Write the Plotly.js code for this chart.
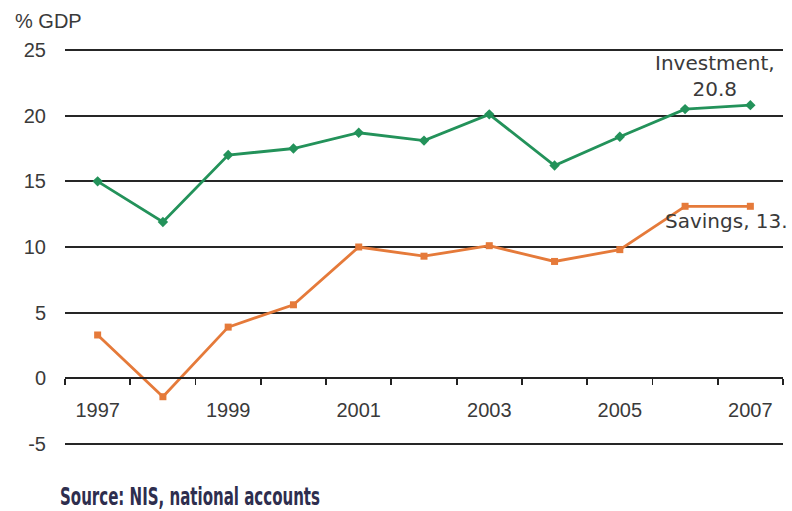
<!DOCTYPE html>
<html>
<head>
<meta charset="utf-8">
<script src="https://cdn.plot.ly/plotly-3.0.1.min.js"></script>
<style>
  html, body { margin: 0; padding: 0; background: #ffffff; }
  #chart { width: 792px; height: 511px; }
</style>
</head>
<body>
<div id="chart"></div>
<script>
// Gross investment and national savings, % of GDP
const years = [1997, 1998, 1999, 2000, 2001, 2002, 2003, 2004, 2005, 2006, 2007];
const investment = [15.0, 11.9, 17.0, 17.5, 18.7, 18.1, 20.1, 16.2, 18.4, 20.5, 20.8];
const savings = [3.3, -1.4, 3.9, 5.6, 10.0, 9.3, 10.1, 8.9, 9.8, 13.1, 13.1];

const yTicks = [-5, 0, 5, 10, 15, 20, 25];
const yearLabels = [1997, 1999, 2001, 2003, 2005, 2007];
const yearBounds = [1996.5, 1997.5, 1998.5, 1999.5, 2000.5, 2001.5, 2002.5,
                    2003.5, 2004.5, 2005.5, 2006.5, 2007.5];

const green = '#23925a';
const orange = '#e57a3a';
const textColor = '#3a3a3a';
const sourceText = 'Source: NIS, national accounts';

// a little room above 25 and below -5 so both outer gridlines are drawn
const yPad = 0.2285;
const yMin = -5 - yPad, yMax = 25 + yPad;
const zeroPos = (0 - yMin) / (yMax - yMin);

const traces = [
  {
    x: years, y: investment, type: 'scatter', mode: 'lines+markers',
    name: 'Investment',
    line: { color: green, width: 2.8 },
    marker: { symbol: 'diamond', size: 8, color: green },
    cliponaxis: false
  },
  {
    x: years, y: savings, type: 'scatter', mode: 'lines+markers',
    name: 'Savings',
    line: { color: orange, width: 2.8 },
    marker: { symbol: 'square', size: 7, color: orange },
    cliponaxis: false
  }
];

const n = years.length;
const lastInv = investment[n - 1];
const lastSav = savings[n - 1];

const layout = {
  width: 792, height: 511,
  margin: { l: 65, r: 9, t: 47, b: 64 },
  paper_bgcolor: '#ffffff', plot_bgcolor: '#ffffff',
  showlegend: false,
  font: { family: 'Liberation Sans, Arial, sans-serif', size: 20, color: textColor },
  xaxis: {
    type: 'linear',
    range: [1996.5, 2007.5],
    anchor: 'free', position: zeroPos,
    showgrid: false, zeroline: false,
    showline: true, linecolor: '#222222', linewidth: 2,
    tickmode: 'array', tickvals: yearLabels, ticktext: yearLabels.map(String),
    ticks: '', ticklabelstandoff: 14,
    minor: {
      tickmode: 'array', tickvals: yearBounds,
      ticks: 'outside', ticklen: 6, tickwidth: 1.8, tickcolor: '#222222',
      showgrid: false
    },
    tickfont: { size: 20, color: textColor }
  },
  yaxis: {
    range: [yMin, yMax],
    tickmode: 'array', tickvals: yTicks, ticktext: yTicks.map(String),
    showgrid: true, gridcolor: '#262626', gridwidth: 2,
    zeroline: false, showline: false, ticks: '',
    ticklabelstandoff: 18,
    tickfont: { size: 20, color: textColor }
  },
  annotations: [
    {
      xref: 'paper', yref: 'paper', x: -0.072, y: 1.065,
      xanchor: 'left', yanchor: 'middle', showarrow: false,
      text: '% GDP',
      font: { family: 'Liberation Sans, Arial, sans-serif', size: 20, color: textColor }
    },
    {
      xref: 'x', yref: 'y', x: years[n - 1], y: lastInv,
      xanchor: 'center', yanchor: 'bottom', xshift: -35, yshift: 2,
      showarrow: false, align: 'center',
      text: 'Investment,<br>' + lastInv.toFixed(1),
      font: { family: 'DejaVu Sans, sans-serif', size: 20, color: textColor }
    },
    {
      xref: 'x', yref: 'y', x: years[n - 1], y: lastSav,
      xanchor: 'right', yanchor: 'middle', xshift: 40, yshift: -15,
      showarrow: false,
      text: 'Savings, ' + Math.floor(lastSav) + '.',
      font: { family: 'DejaVu Sans, sans-serif', size: 20, color: textColor }
    },
    {
      xref: 'paper', yref: 'paper', x: -0.007, y: -0.125,
      xanchor: 'left', yanchor: 'middle', showarrow: false,
      text: '<b>' + sourceText + '</b>',
      font: { family: 'DejaVu Sans Condensed, Liberation Sans Narrow, Liberation Sans, sans-serif', size: 24, color: '#2e2e4e' }
    }
  ]
};

Plotly.newPlot('chart', traces, layout, { staticPlot: true, displayModeBar: false }).then(function (gd) {
  // squeeze the source line into a condensed width, keeping its left edge
  const texts = gd.querySelectorAll('.annotation-text');
  texts.forEach(function (t) {
    if (t.textContent === sourceText) {
      const box = t.getBBox();
      t.setAttribute('text-anchor', 'start');
      t.setAttribute('x', String(box.x - 2));
      t.setAttribute('textLength', '260');
      t.setAttribute('lengthAdjust', 'spacingAndGlyphs');
    }
  });
});
</script>
</body>
</html>
